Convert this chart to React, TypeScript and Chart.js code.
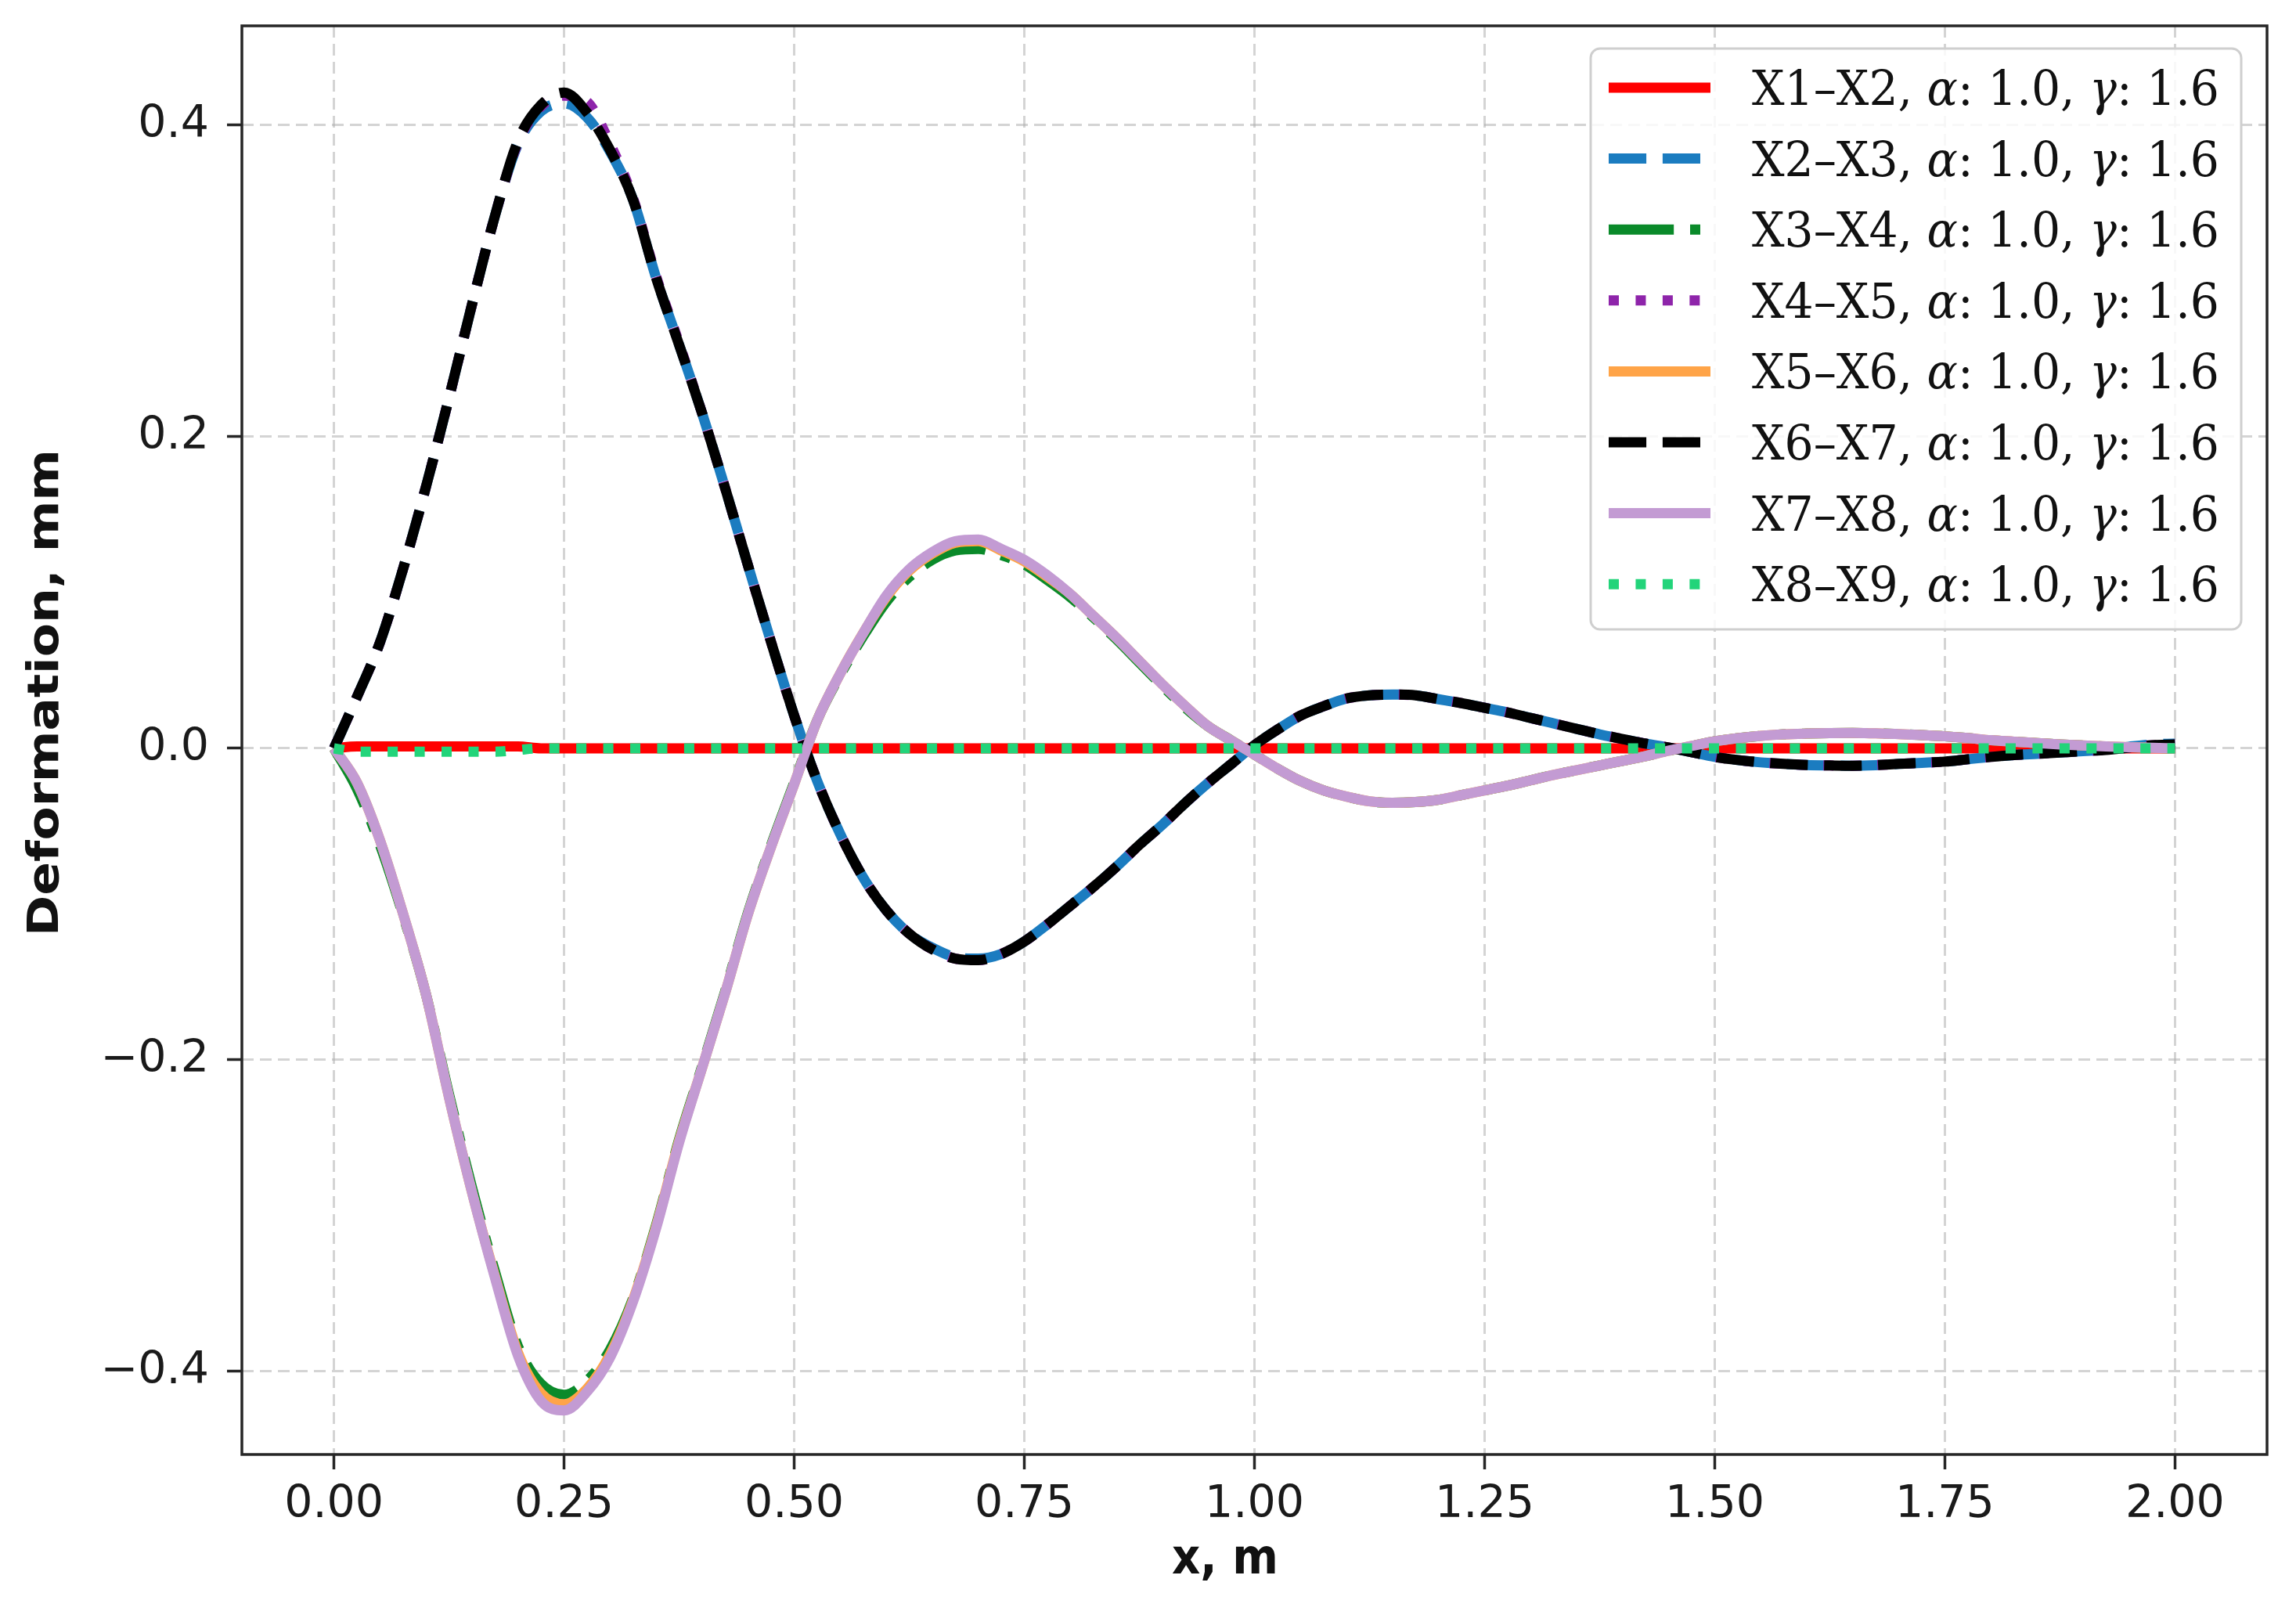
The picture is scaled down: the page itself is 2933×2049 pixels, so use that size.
import React, { useEffect, useRef } from "react";
import { Chart, registerables } from "chart.js";

Chart.register(...registerables);

const W = 2933;
const H = 2049;

const xValues = [
  0.0, 0.025, 0.05, 0.075, 0.1, 0.125, 0.15, 0.175, 0.2, 0.225, 0.25, 0.275, 0.3, 0.325, 0.35, 0.375, 0.4, 0.425, 0.45, 0.475, 0.5,
  0.525, 0.55, 0.575, 0.6, 0.625, 0.65, 0.675, 0.7, 0.725, 0.75, 0.775, 0.8, 0.825, 0.85, 0.875, 0.9, 0.925, 0.95, 0.975, 1.0,
  1.025, 1.05, 1.075, 1.1, 1.125, 1.15, 1.175, 1.2, 1.225, 1.25, 1.275, 1.3, 1.325, 1.35, 1.375, 1.4, 1.425, 1.45, 1.475, 1.5,
  1.525, 1.55, 1.575, 1.6, 1.625, 1.65, 1.675, 1.7, 1.725, 1.75, 1.775, 1.8, 1.825, 1.85, 1.875, 1.9, 1.925, 1.95, 1.975, 2.0,
];

const x1x2 = [
  0.0, 0.0012, 0.0012, 0.0012, 0.0012, 0.0012, 0.0012, 0.0012, 0.0012, 0.0, 0.0, 0.0, 0.0, 0.0, 0.0, 0.0, 0.0, 0.0, 0.0, 0.0, 0.0,
  0.0, 0.0, 0.0, 0.0, 0.0, 0.0, 0.0, 0.0, 0.0, 0.0, 0.0, 0.0, 0.0, 0.0, 0.0, 0.0, 0.0, 0.0, 0.0, 0.0,
  0.0, 0.0, 0.0, 0.0, 0.0, 0.0, 0.0, 0.0, 0.0, 0.0, 0.0, 0.0, 0.0, 0.0, 0.0, 0.0, 0.0, 0.0, 0.0, 0.0,
  0.0, 0.0, 0.0, 0.0, 0.0, 0.0, 0.0, 0.0, 0.0, 0.0, 0.0, 0.0, 0.0, 0.0, 0.0, 0.0, 0.0, 0.0, 0.0, 0.0,
];

const x2x3 = [
  0.0, 0.033, 0.068, 0.115, 0.168, 0.225, 0.285, 0.342, 0.388, 0.409, 0.414, 0.405, 0.383, 0.352, 0.302, 0.259, 0.215, 0.167, 0.117, 0.068, 0.021,
  -0.021, -0.055, -0.083, -0.104, -0.119, -0.128, -0.134, -0.135, -0.132, -0.124, -0.113, -0.101, -0.089, -0.076, -0.062, -0.049, -0.035, -0.022, -0.01, 0.002,
  0.012, 0.021, 0.027, 0.032, 0.034, 0.0345, 0.034, 0.0315, 0.029, 0.026, 0.023, 0.0195, 0.016, 0.0125, 0.009, 0.006, 0.003, 0.0005, -0.0025, -0.0055,
  -0.0075, -0.009, -0.01, -0.0107, -0.011, -0.0112, -0.0108, -0.01, -0.0093, -0.0085, -0.007, -0.0055, -0.0043, -0.0035, -0.0027, -0.0018, -0.0008, 0.001, 0.0025, 0.003,
];

const x3x4 = [
  0.0, -0.026, -0.062, -0.107, -0.158, -0.222, -0.282, -0.336, -0.384, -0.408, -0.415, -0.406, -0.386, -0.353, -0.306, -0.251, -0.204, -0.156, -0.105, -0.062, -0.022,
  0.018, 0.047, 0.072, 0.094, 0.11, 0.121, 0.127, 0.128, 0.124, 0.118, 0.108, 0.097, 0.084, 0.07, 0.055, 0.04, 0.026, 0.014, 0.005, -0.004,
  -0.013, -0.021, -0.027, -0.031, -0.034, -0.035, -0.0345, -0.033, -0.03, -0.027, -0.024, -0.0205, -0.017, -0.014, -0.011, -0.008, -0.005, -0.0015, 0.0015, 0.0045,
  0.0065, 0.008, 0.009, 0.0095, 0.0098, 0.0099, 0.0096, 0.0092, 0.0085, 0.0077, 0.0066, 0.0052, 0.0043, 0.0034, 0.0025, 0.0018, 0.0012, 0.0007, 0.0003, 0.0,
];

const x4x5 = [
  0.0, 0.033, 0.068, 0.115, 0.168, 0.225, 0.285, 0.342, 0.389, 0.412, 0.419, 0.415, 0.388, 0.353, 0.303, 0.26, 0.215, 0.167, 0.117, 0.068, 0.021,
  -0.021, -0.055, -0.083, -0.104, -0.119, -0.129, -0.135, -0.136, -0.132, -0.124, -0.113, -0.101, -0.089, -0.076, -0.062, -0.049, -0.035, -0.022, -0.01, 0.002,
  0.012, 0.021, 0.027, 0.032, 0.034, 0.0345, 0.034, 0.0315, 0.029, 0.026, 0.023, 0.0195, 0.016, 0.0125, 0.009, 0.006, 0.003, 0.0005, -0.0025, -0.0055,
  -0.0075, -0.009, -0.01, -0.0107, -0.011, -0.0112, -0.0108, -0.01, -0.0093, -0.0085, -0.007, -0.0055, -0.0043, -0.0035, -0.0027, -0.0018, -0.001, 0.0005, 0.002, 0.0025,
];

const x5x6 = [
  0.0, -0.022, -0.059, -0.106, -0.158, -0.224, -0.285, -0.339, -0.388, -0.414, -0.421, -0.411, -0.389, -0.354, -0.307, -0.252, -0.205, -0.157, -0.106, -0.063, -0.023,
  0.018, 0.048, 0.074, 0.097, 0.114, 0.125, 0.132, 0.133, 0.127, 0.12, 0.11, 0.099, 0.085, 0.071, 0.056, 0.041, 0.027, 0.014, 0.005, -0.004,
  -0.013, -0.021, -0.027, -0.031, -0.034, -0.035, -0.0345, -0.033, -0.03, -0.027, -0.024, -0.0205, -0.017, -0.014, -0.011, -0.008, -0.005, -0.0015, 0.0015, 0.0045,
  0.0065, 0.008, 0.009, 0.0095, 0.0098, 0.0099, 0.0096, 0.0092, 0.0085, 0.0077, 0.0066, 0.0052, 0.0043, 0.0034, 0.0025, 0.0018, 0.0012, 0.0007, 0.0003, 0.0,
];

const x6x7 = [
  0.0, 0.033, 0.068, 0.115, 0.168, 0.225, 0.285, 0.342, 0.39, 0.413, 0.421, 0.408, 0.384, 0.352, 0.302, 0.259, 0.215, 0.167, 0.117, 0.068, 0.021,
  -0.021, -0.055, -0.083, -0.104, -0.119, -0.129, -0.135, -0.136, -0.132, -0.124, -0.113, -0.101, -0.089, -0.076, -0.062, -0.049, -0.035, -0.022, -0.01, 0.002,
  0.012, 0.021, 0.027, 0.032, 0.034, 0.0345, 0.034, 0.0315, 0.029, 0.026, 0.023, 0.0195, 0.016, 0.0125, 0.009, 0.006, 0.003, 0.0005, -0.0025, -0.0055,
  -0.0075, -0.009, -0.01, -0.0107, -0.011, -0.0112, -0.0108, -0.01, -0.0093, -0.0085, -0.007, -0.0055, -0.0043, -0.0035, -0.0027, -0.0018, -0.001, 0.0005, 0.002, 0.0025,
];

const x7x8 = [
  0.0, -0.022, -0.059, -0.106, -0.158, -0.224, -0.285, -0.34, -0.39, -0.419, -0.425, -0.413, -0.391, -0.355, -0.308, -0.253, -0.205, -0.157, -0.106, -0.063, -0.023,
  0.018, 0.048, 0.074, 0.098, 0.115, 0.126, 0.133, 0.134, 0.128, 0.121, 0.111, 0.099, 0.085, 0.071, 0.056, 0.041, 0.027, 0.014, 0.005, -0.004,
  -0.013, -0.021, -0.027, -0.031, -0.034, -0.035, -0.0345, -0.033, -0.03, -0.027, -0.024, -0.0205, -0.017, -0.014, -0.011, -0.008, -0.005, -0.0015, 0.0015, 0.0045,
  0.0065, 0.008, 0.009, 0.0095, 0.0098, 0.0099, 0.0096, 0.0092, 0.0085, 0.0077, 0.0066, 0.0052, 0.0043, 0.0034, 0.0025, 0.0018, 0.0012, 0.0007, 0.0003, 0.0,
];

const x8x9 = [
  0.0, -0.0022, -0.0022, -0.0022, -0.0022, -0.0022, -0.0022, -0.0022, -0.001, 0.0, 0.0, 0.0, 0.0, 0.0, 0.0, 0.0, 0.0, 0.0, 0.0, 0.0, 0.0,
  0.0, 0.0, 0.0, 0.0, 0.0, 0.0, 0.0, 0.0, 0.0, 0.0, 0.0, 0.0, 0.0, 0.0, 0.0, 0.0, 0.0, 0.0, 0.0, 0.0,
  0.0, 0.0, 0.0, 0.0, 0.0, 0.0, 0.0, 0.0, 0.0, 0.0, 0.0, 0.0, 0.0, 0.0, 0.0, 0.0, 0.0, 0.0, 0.0, 0.0,
  0.0, 0.0, 0.0, 0.0, 0.0, 0.0, 0.0, 0.0, 0.0, 0.0, 0.0, 0.0, 0.0, 0.0, 0.0, 0.0, 0.0, 0.0, 0.0, 0.0,
];

const seriesLabels = [
  "X1–X2, α: 1.0, γ: 1.6",
  "X2–X3, α: 1.0, γ: 1.6",
  "X3–X4, α: 1.0, γ: 1.6",
  "X4–X5, α: 1.0, γ: 1.6",
  "X5–X6, α: 1.0, γ: 1.6",
  "X6–X7, α: 1.0, γ: 1.6",
  "X7–X8, α: 1.0, γ: 1.6",
  "X8–X9, α: 1.0, γ: 1.6",
];
const seriesValues = [x1x2, x2x3, x3x4, x4x5, x5x6, x6x7, x7x8, x8x9];
const seriesColors = ["#ff0000", "#1b7cc0", "#0a8a2a", "#8e24aa", "#ffa448", "#000000", "#c39bd3", "#22d47a"];
const seriesDashes: number[][] = [
  [],
  [48.1, 20.8],
  [83.2, 20.8, 13, 20.8],
  [13, 21.45],
  [],
  [48.1, 20.8],
  [],
  [13, 21.45],
];

const xTicks = [0, 0.25, 0.5, 0.75, 1.0, 1.25, 1.5, 1.75, 2.0];
const yTicks = [-0.4, -0.2, 0.0, 0.2, 0.4];
const xTitle = "x, m";
const yTitle = "Deformation, mm";

const LINE_W = 13;

function roundRectPath(ctx: CanvasRenderingContext2D, x: number, y: number, w: number, h: number, r: number) {
  ctx.beginPath();
  ctx.moveTo(x + r, y);
  ctx.lineTo(x + w - r, y);
  ctx.arcTo(x + w, y, x + w, y + r, r);
  ctx.lineTo(x + w, y + h - r);
  ctx.arcTo(x + w, y + h, x + w - r, y + h, r);
  ctx.lineTo(x + r, y + h);
  ctx.arcTo(x, y + h, x, y + h - r, r);
  ctx.lineTo(x, y + r);
  ctx.arcTo(x, y, x + r, y, r);
  ctx.closePath();
}

const framePlugin = {
  id: "mplFrameLegend",
  afterDatasetsDraw(chart: any) {
    const ctx: CanvasRenderingContext2D = chart.ctx;
    const { left, top, right, bottom } = chart.chartArea;

    ctx.save();
    ctx.setLineDash([]);
    ctx.strokeStyle = "#262626";
    ctx.lineWidth = 3.5;
    ctx.strokeRect(left, top, right - left, bottom - top);
    ctx.restore();

    const bx = right - 864;
    const by = top + 29;
    const bw = 831;
    const bh = 742;
    ctx.save();
    roundRectPath(ctx, bx, by, bw, bh, 12);
    ctx.fillStyle = "rgba(255,255,255,0.85)";
    ctx.fill();
    ctx.strokeStyle = "#cfcfcf";
    ctx.lineWidth = 3;
    ctx.stroke();

    const fs = 62;
    const regular = `${fs}px 'DejaVu Serif', serif`;
    const italic = `italic ${fs}px 'DejaVu Serif', serif`;
    const rowH = 90.6;
    for (let i = 0; i < seriesLabels.length; i++) {
      const cy = by + 50 + i * rowH;
      ctx.save();
      ctx.beginPath();
      ctx.strokeStyle = seriesColors[i];
      ctx.lineWidth = 13;
      ctx.lineCap = "butt";
      ctx.setLineDash(seriesDashes[i]);
      ctx.moveTo(bx + 23, cy);
      ctx.lineTo(bx + 153, cy);
      ctx.stroke();
      ctx.restore();

      const parts = seriesLabels[i].split(/([αγ])/).filter((p) => p.length > 0);
      let total = 0;
      const widths: number[] = [];
      for (const p of parts) {
        ctx.font = /[αγ]/.test(p) ? italic : regular;
        const w = ctx.measureText(p).width;
        widths.push(w);
        total += w;
      }
      let s = 597 / total;
      if (!(s > 0.8 && s < 1.15)) s = 0.94;
      ctx.save();
      ctx.translate(bx + 206, cy + 22);
      ctx.scale(s, 1);
      ctx.fillStyle = "#111";
      ctx.textBaseline = "alphabetic";
      ctx.textAlign = "left";
      let cx = 0;
      parts.forEach((p, k) => {
        ctx.font = /[αγ]/.test(p) ? italic : regular;
        ctx.fillText(p, cx, 0);
        cx += widths[k];
      });
      ctx.restore();
    }
    ctx.restore();
  },
  afterDraw(chart: any) {
    const ctx: CanvasRenderingContext2D = chart.ctx;
    ctx.save();
    ctx.fillStyle = "#111";
    ctx.font = "bold 63px 'DejaVu Sans', sans-serif";
    const xw = ctx.measureText(xTitle).width;
    let sx = 136 / xw;
    if (!(sx > 0.7 && sx < 1.2)) sx = 0.885;
    ctx.save();
    ctx.translate(1565, 2010);
    ctx.scale(sx, 1);
    ctx.textAlign = "center";
    ctx.textBaseline = "alphabetic";
    ctx.fillText(xTitle, 0, 0);
    ctx.restore();

    ctx.save();
    ctx.translate(60, 885);
    ctx.scale(0.885, 1);
    ctx.rotate(-Math.PI / 2);
    ctx.font = "bold 63px 'DejaVu Sans', sans-serif";
    ctx.textAlign = "center";
    ctx.textBaseline = "middle";
    ctx.fillText(yTitle, 0, 0);
    ctx.restore();
    ctx.restore();
  },
};

const gridColor = "rgba(176,176,176,0.55)";

export default function App() {
  const canvasRef = useRef<HTMLCanvasElement | null>(null);

  useEffect(() => {
    const canvas = canvasRef.current;
    if (!canvas) return;
    const datasets = seriesLabels.map((label, i) => ({
      label,
      data: xValues.map((x, k) => ({ x, y: seriesValues[i][k] })),
      borderColor: seriesColors[i],
      backgroundColor: seriesColors[i],
      borderWidth: LINE_W,
      borderDash: seriesDashes[i],
      borderCapStyle: "butt" as const,
      borderJoinStyle: "round" as const,
      pointRadius: 0,
      pointHoverRadius: 0,
      fill: false,
      cubicInterpolationMode: "monotone" as const,
      order: seriesLabels.length - i,
    }));

    const chart = new Chart(canvas, {
      type: "line",
      data: { datasets },
      options: {
        responsive: false,
        animation: false,
        devicePixelRatio: 1,
        events: [],
        layout: { padding: { left: 0, right: 37, top: 33, bottom: 0 } },
        plugins: {
          legend: { display: false },
          tooltip: { enabled: false },
          title: { display: false },
        },
        scales: {
          x: {
            type: "linear",
            min: -0.1,
            max: 2.1,
            afterBuildTicks: (scale: any) => {
              scale.ticks = xTicks.map((v) => ({ value: v }));
            },
            afterFit: (scale: any) => {
              scale.height = 191;
              scale.paddingLeft = 0;
              scale.paddingRight = 0;
            },
            grid: {
              color: gridColor,
              lineWidth: 3,
              drawTicks: true,
              tickLength: 19,
              tickWidth: 3.5,
              tickColor: "#262626",
              tickBorderDash: [],
            } as any,
            border: { display: false, dash: [15, 8] },
            ticks: {
              color: "#1a1a1a",
              font: { family: "'DejaVu Sans', sans-serif", size: 57 },
              padding: 12,
              maxRotation: 0,
              autoSkip: false,
              callback: (v: any) => Number(v).toFixed(2),
            },
          },
          y: {
            type: "linear",
            min: -0.4533,
            max: 0.4638,
            afterBuildTicks: (scale: any) => {
              scale.ticks = yTicks.map((v) => ({ value: v }));
            },
            afterFit: (scale: any) => {
              scale.width = 309;
              scale.paddingTop = 0;
              scale.paddingBottom = 0;
            },
            grid: {
              color: gridColor,
              lineWidth: 3,
              drawTicks: true,
              tickLength: 19,
              tickWidth: 3.5,
              tickColor: "#262626",
              tickBorderDash: [],
            } as any,
            border: { display: false, dash: [15, 8] },
            ticks: {
              color: "#1a1a1a",
              font: { family: "'DejaVu Sans', sans-serif", size: 57 },
              padding: 23,
              autoSkip: false,
              callback: (v: any) => Number(v).toFixed(1).replace("-", "\u2212"),
            },
          },
        },
      },
      plugins: [framePlugin],
    });

    return () => {
      chart.destroy();
    };
  }, []);

  return (
    <div style={{ position: "fixed", left: 0, top: 0, width: W, height: H, background: "#ffffff" }}>
      <canvas ref={canvasRef} width={W} height={H} style={{ display: "block", width: W, height: H }} />
    </div>
  );
}
